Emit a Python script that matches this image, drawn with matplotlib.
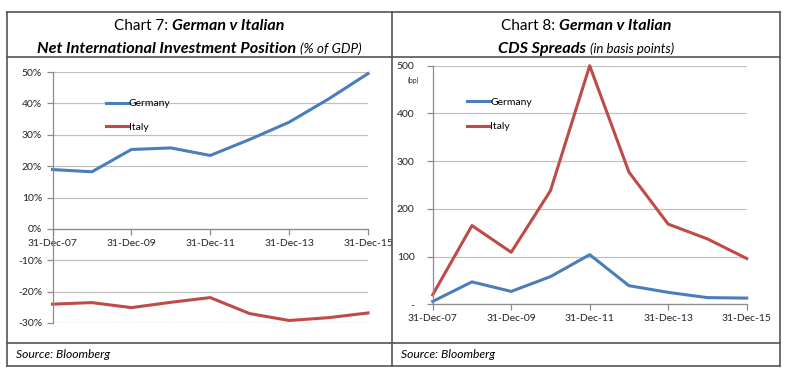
import matplotlib
matplotlib.use("Agg")
import matplotlib.pyplot as plt
from matplotlib.lines import Line2D

plt.rcParams['font.family'] = ['Lato', 'DejaVu Sans']

years = [2007, 2008, 2009, 2010, 2011, 2012, 2013, 2014, 2015]
xtick_labels = ['31-Dec-07', '31-Dec-09', '31-Dec-11', '31-Dec-13', '31-Dec-15']
xtick_years = [2007, 2009, 2011, 2013, 2015]

niip_germany = [18.9, 18.2, 25.3, 25.8, 23.4, 28.5, 34.0, 41.4, 49.5]
niip_italy = [-24.0, -23.5, -25.1, -23.4, -21.9, -27.0, -29.2, -28.3, -26.8]

cds_germany = [6, 47, 27, 58, 104, 39, 25, 14, 13]
cds_italy = [20, 165, 109, 238, 500, 277, 168, 137, 96]

BLUE = '#4a7ebb'
RED = '#be4b48'
GRID = '#c0c0c0'
AXC = '#8c8c8c'
TXT = '#222222'

W, H = 800, 383
fig = plt.figure(figsize=(8, 3.83), dpi=100)

def fx(px):
    return px / W

def fy(py):
    return 1 - py / H

# frame lines
def hline(y, x0, x1, lw=1.2):
    fig.add_artist(Line2D([fx(x0), fx(x1)], [fy(y), fy(y)], color='#555555', lw=lw, transform=fig.transFigure))

def vline(x, y0, y1, lw=1.2):
    fig.add_artist(Line2D([fx(x), fx(x)], [fy(y0), fy(y1)], color='#555555', lw=lw, transform=fig.transFigure))

L, R, T, B = 6.7, 780, 11.7, 366
MID = 392
hline(T, L, R)
hline(B, L, R)
hline(57, L, R)
hline(342.7, L, R)
vline(L, T, B)
vline(R, T, B)
vline(MID, T, B)

# Axes
ax1 = fig.add_axes([fx(52.5), fy(323), (368 - 52.5) / W, (323 - 72) / H])
ax2 = fig.add_axes([fx(432.7), fy(304.3), (746.7 - 432.7) / W, (304.3 - 65.7) / H])

for ax in (ax1, ax2):
    for s in ('top', 'right'):
        ax.spines[s].set_visible(False)
    ax.spines['left'].set_color(AXC)
    ax.spines['bottom'].set_color(AXC)
    ax.spines['left'].set_linewidth(0.9)
    ax.spines['bottom'].set_linewidth(0.9)
    ax.set_xlim(2007, 2015)
    ax.set_xticks(xtick_years)
    ax.set_xticklabels(xtick_labels)
    ax.tick_params(axis='both', colors=AXC, labelcolor=TXT, labelsize=7.5, length=4, width=0.9)
    ax.tick_params(axis='x', pad=3)
    ax.set_axisbelow(True)
    ax.yaxis.grid(True, color=GRID, lw=0.9)
    ax.patch.set_alpha(0)

# Chart 7
ax1.set_ylim(-30, 50)
ax1.set_yticks(range(-30, 51, 10))
ax1.set_yticklabels([f'{v}%' for v in range(-30, 51, 10)])
ax1.spines['bottom'].set_position(('data', 0))
ax1.plot(years, niip_germany, color=BLUE, lw=2.2, label='Germany', clip_on=False)
ax1.plot(years, niip_italy, color=RED, lw=2.2, label='Italy', clip_on=False)
ax1.legend(loc='upper left', bbox_to_anchor=(0.14, 0.93), frameon=False, fontsize=7.5,
           handlelength=2.2, handletextpad=0.0, labelspacing=1.35)

# Chart 8
ax2.set_ylim(0, 500)
ax2.set_yticks(range(0, 501, 100))
ax2.set_yticklabels(['-', '100', '200', '300', '400', '500'])
ax2.tick_params(axis='y', pad=9)
ax2.plot(years, cds_germany, color=BLUE, lw=2.2, label='Germany', clip_on=False)
ax2.plot(years, cds_italy, color=RED, lw=2.2, label='Italy', clip_on=False)
ax2.legend(loc='upper left', bbox_to_anchor=(0.08, 0.905), frameon=False, fontsize=7.5,
           handlelength=2.2, handletextpad=0.0, labelspacing=1.45)
fig.text(fx(413), fy(80), '(bp)', fontsize=5, ha='center', va='center', color=TXT)

# Titles (mixed styles)
def mixed_line(parts, cx, cy):
    texts = []
    for s, st, wt, sz in parts:
        t = fig.text(0, fy(cy), s, fontsize=sz, style=st, weight=wt, va='baseline', ha='left', color='black')
        texts.append(t)
    return texts

lines = [
    ([('Chart 7: ', 'normal', 'normal', 11), ('German v Italian', 'italic', 'bold', 11.5)], (L + MID) / 2, 30),
    ([('Net International Investment Position ', 'italic', 'bold', 11.7), ('(% of GDP)', 'italic', 'normal', 9.8)], (L + MID) / 2, 53),
    ([('Chart 8: ', 'normal', 'normal', 11), ('German v Italian', 'italic', 'bold', 11.5)], (MID + R) / 2, 30),
    ([('CDS Spreads ', 'italic', 'bold', 11.7), ('(in basis points)', 'italic', 'normal', 9.5)], (MID + R) / 2, 53),
]
groups = [(mixed_line(p, cx, cy), cx) for p, cx, cy in lines]
fig.canvas.draw()
r = fig.canvas.get_renderer()
for texts, cx in groups:
    widths = [t.get_window_extent(r).width for t in texts]
    total = sum(widths)
    x = cx - total / 2
    for t, w in zip(texts, widths):
        t.set_x(x / W)
        x += w

fig.text(fx(16), fy(354), 'Source: Bloomberg', fontsize=8.7, style='italic', va='center', ha='left')
fig.text(fx(401), fy(354), 'Source: Bloomberg', fontsize=8.7, style='italic', va='center', ha='left')

fig.savefig('out.png', dpi=100)
